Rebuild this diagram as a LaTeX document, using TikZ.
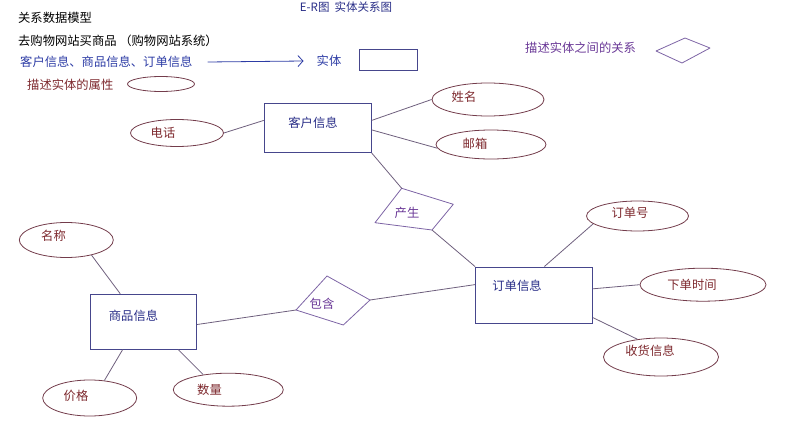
\documentclass[tikz,border=0pt]{standalone}
\usepackage{fontspec}
\setmainfont{Noto Sans CJK SC}
\usetikzlibrary{arrows.meta, shapes.geometric}
\definecolor{entBlue}{RGB}{40, 45, 135}
\definecolor{legBlue}{RGB}{45, 60, 165}
\definecolor{entLine}{RGB}{70, 70, 140}
\definecolor{attRed}{RGB}{125, 40, 45}
\definecolor{attLine}{RGB}{115, 60, 75}
\definecolor{relPurple}{RGB}{105, 55, 150}
\definecolor{relLine}{RGB}{125, 100, 165}
\definecolor{linkGray}{RGB}{110, 95, 125}

\begin{document}
\begin{tikzpicture}[x=1pt, y=-1pt,
    every node/.style={inner sep=0pt, font=\fontsize{12.3}{14}\selectfont},
    entity/.style={draw=entLine, line width=0.9pt, rectangle},
    attr/.style={draw=attLine, line width=0.8pt, ellipse},
    ename/.style={text=entBlue},
    aname/.style={text=attRed},
    rname/.style={text=relPurple},
    rel/.style={draw=relLine, line width=0.8pt, line join=round},
    link/.style={draw=linkGray, line width=0.8pt}]
  \useasboundingbox (0,0) rectangle (790,428);
  % Title
  \node[ename, font=\fontsize{11.5}{13}\selectfont] (title) at (346,7) {E-R图\hspace{5pt}实体关系图};
  % Legend
  \node[anchor=west] (l1) at (18,18) {关系数据模型};
  \node[anchor=west] (l2) at (18,41) {去购物网站买商品 （购物网站系统）};
  \node[anchor=west, text=legBlue] (l3) at (20,62) {客户信息、商品信息、订单信息};
  \node[text=legBlue] (st) at (329,61) {实体};
  \draw[legBlue, line width=0.8pt, -{Straight Barb[length=5pt, width=11pt]}] ([xshift=15pt]l3.east) -- ([xshift=-13pt]st.west);
  \node[entity, minimum width=58, minimum height=21] (stbox) at (388.5,59.5) {};
  \node[anchor=west, aname] (l4) at (27,85) {描述实体的属性};
  \node[attr, minimum width=67, minimum height=15] (sxbox) at (161,84) {};
  \node[anchor=west, rname] (l5) at (525,48) {描述实体之间的关系};
  \draw[rel] (656,51) -- (685,38) -- (710,48) -- (682,63) -- cycle;

  % Entities
  \node[entity, minimum width=107, minimum height=49] (kh) at (317.7,128) {};
  \node[ename] (kh-t) at (313,123) {客户信息};
  \node[entity, minimum width=106, minimum height=55] (sp) at (143.7,321.7) {};
  \node[ename] (sp-t) at (133.5,316) {商品信息};
  \node[entity, minimum width=117, minimum height=56] (dd) at (534,295) {};
  \node[ename] (dd-t) at (517,286) {订单信息};

  % Attributes
  \node[attr, minimum width=93, minimum height=27] (dh) at (177,133) {};
  \node[aname] (dh-t) at (163,133) {电话};
  \node[attr, minimum width=112, minimum height=33] (xm) at (488,99.5) {};
  \node[aname] (xm-t) at (464,97) {姓名};
  \node[attr, minimum width=110, minimum height=29] (yx) at (491,144.5) {};
  \node[aname] (yx-t) at (475,144) {邮箱};
  \node[attr, minimum width=102, minimum height=30] (ddh) at (637.5,216) {};
  \node[aname] (ddh-t) at (630,213) {订单号};
  \node[attr, minimum width=126, minimum height=33] (xdsj) at (703,284.7) {};
  \node[aname] (xdsj-t) at (692,285) {下单时间};
  \node[attr, minimum width=115, minimum height=38] (shxx) at (661,357) {};
  \node[aname] (shxx-t) at (650,351) {收货信息};
  \node[attr, minimum width=94, minimum height=35] (mc) at (66.3,240) {};
  \node[aname] (mc-t) at (53.5,236) {名称};
  \node[attr, minimum width=94, minimum height=36] (jg) at (89.7,398) {};
  \node[aname] (jg-t) at (76,396) {价格};
  \node[attr, minimum width=110, minimum height=33] (sl) at (228.3,389.7) {};
  \node[aname] (sl-t) at (209.5,390) {数量};

  % Relationships
  \coordinate (cs-t) at (401.7,188.3);
  \coordinate (cs-r) at (453.3,204.3);
  \coordinate (cs-b) at (432,230);
  \coordinate (cs-l) at (375,222.7);
  \draw[rel] (cs-t) -- (cs-r) -- (cs-b) -- (cs-l) -- cycle;
  \node[rname] (cs) at (407,213) {产生};
  \coordinate (bh-t) at (327,276);
  \coordinate (bh-r) at (370,300);
  \coordinate (bh-b) at (343.3,325);
  \coordinate (bh-l) at (296,310);
  \draw[rel] (bh-t) -- (bh-r) -- (bh-b) -- (bh-l) -- cycle;
  \node[rname] (bh) at (322,304) {包含};

  % Connectors
  \draw[link] (dh.east) -- (kh.172);
  \draw[link] (kh.8) -- (xm.west);
  \draw[link] (kh.-2) -- (yx.184);
  \draw[link] (kh.south east) -- (cs-t);
  \draw[link] (cs-b) -- (dd.north west);
  \draw[link] (dd.70) -- (ddh.190);
  \draw[link] (dd.6) -- (xdsj.west);
  \draw[link] (dd.-21) -- (shxx.143);
  \draw[link] (mc.-31) -- (sp.130);
  \draw[link] (sp.233) -- (jg.50);
  \draw[link] (sp.-39) -- (sl.149);
  \draw[link] (sp.-3) -- (bh-l);
  \draw[link] (bh-r) -- (dd.170);
\end{tikzpicture}
\end{document}
